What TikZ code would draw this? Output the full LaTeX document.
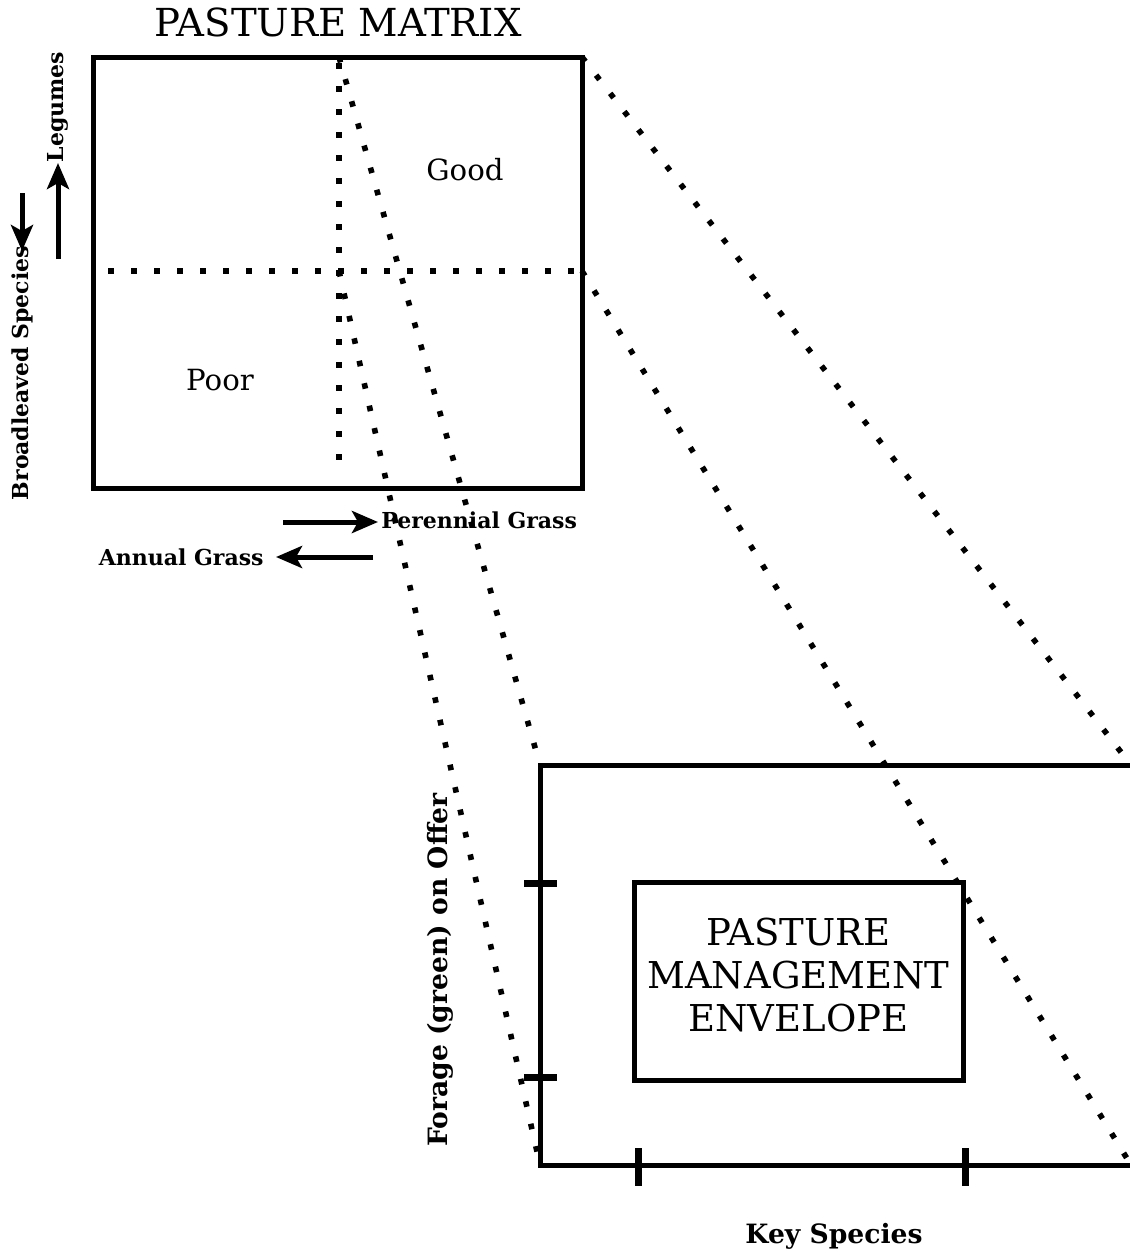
\documentclass[tikz,border=0pt]{standalone}
\usepackage{fontspec}
\setmainfont{DejaVu Serif}
\usetikzlibrary{arrows.meta}
\begin{document}
\begin{tikzpicture}[x=0.5pt,y=-0.5pt,
  frame/.style={draw, line width=2.5pt, inner sep=0pt},
  dots/.style={line width=2.8pt, dash pattern=on 2.8pt off 8.7pt},
  arr/.style={line width=2.5pt, -{Stealth[length=13pt,width=11pt,inset=3pt]}},
  lab/.style={font=\bfseries\fontsize{11}{13}\selectfont, inner sep=0pt},
  biglab/.style={font=\bfseries\fontsize{13.3}{15}\selectfont, inner sep=0pt},
  tick/.style={fill=black, inner sep=0pt}]
\useasboundingbox (0,0) rectangle (1130,1255);

% title
\node[font=\fontsize{19.3}{22}\selectfont, inner sep=0pt] (title) at (338,22) {PASTURE MATRIX};

% pasture matrix box
\node[frame, minimum width=244.5pt, minimum height=215.5pt] (pm) at (337.5,272.5) {};
\coordinate (vtop) at (339,63);
\coordinate (vbot) at (339,472);
\coordinate (hl) at (108,271);
\coordinate (hr) at (580,271);
\coordinate (cen) at (339,271);
\coordinate (ctop) at (339,57);
\coordinate (rtop) at (582,57);
\coordinate (rmid) at (582,271);
\draw[dots] (vtop) -- (vbot);
\draw[dots] (hl) -- (hr);

\node[font=\fontsize{14.6}{16}\selectfont, inner sep=0pt] (good) at (465,170) {Good};
\node[font=\fontsize{14.6}{16}\selectfont, inner sep=0pt] (poor) at (220,380) {Poor};

% axis labels of matrix
\node[lab, rotate=90] (broad) at (22,373) {Broadleaved Species};
\node[lab, rotate=90] (leg) at (58,107) {Legumes};
\coordinate (bdA) at (22,193);
\coordinate (bdB) at (22,251);
\draw[arr] (bdA) -- (bdB);
\coordinate (lgA) at (58,259);
\coordinate (lgB) at (58,163);
\draw[arr] (lgA) -- (lgB);

\node[lab, anchor=west] (peren) at (381,520) {Perennial Grass};
\node[lab, anchor=east] (annual) at (264,557) {Annual Grass};
\coordinate (pgA) at (283,522);
\coordinate (pgB) at (378,522);
\draw[arr] (pgA) -- (pgB);
\coordinate (agA) at (373,557);
\coordinate (agB) at (276,557);
\draw[arr] (agA) -- (agB);

% lower frame (open on the right, runs off the page)
\coordinate (ltl) at (540,765);
\coordinate (lbl) at (540,1165);
\coordinate (ltr) at (1131,765);
\coordinate (lbr) at (1131,1165);
\draw[line width=2.5pt] (1140,765) -- (ltl) -- (lbl) -- (1140,1165);

% ticks
\node[tick, minimum width=16.5pt, minimum height=3.5pt] (t1) at (540,883) {};
\node[tick, minimum width=16.5pt, minimum height=3.5pt] (t2) at (540,1077) {};
\node[tick, minimum width=3.5pt, minimum height=19pt] (t3) at (638,1167) {};
\node[tick, minimum width=3.5pt, minimum height=19pt] (t4) at (965,1167) {};

% projection lines
\draw[dots] (ctop) -- (ltl);
\draw[dots] (cen) -- (lbl);
\draw[dots] (rtop) -- (ltr);
\draw[dots] (rmid) -- (lbr);

% envelope
\node[frame, fill=white, minimum width=164.5pt, minimum height=99pt] (env) at (798.5,981) {};
\node[align=center, inner sep=0pt, font=\fontsize{18.5}{21.5}\selectfont] (envtxt) at (798.5,975)
      {PASTURE\\MANAGEMENT\\ENVELOPE};

\node[biglab, rotate=90] (forage) at (440,970) {Forage (green) on Offer};
\node[biglab] (key) at (834,1236) {Key Species};
\end{tikzpicture}
\end{document}
